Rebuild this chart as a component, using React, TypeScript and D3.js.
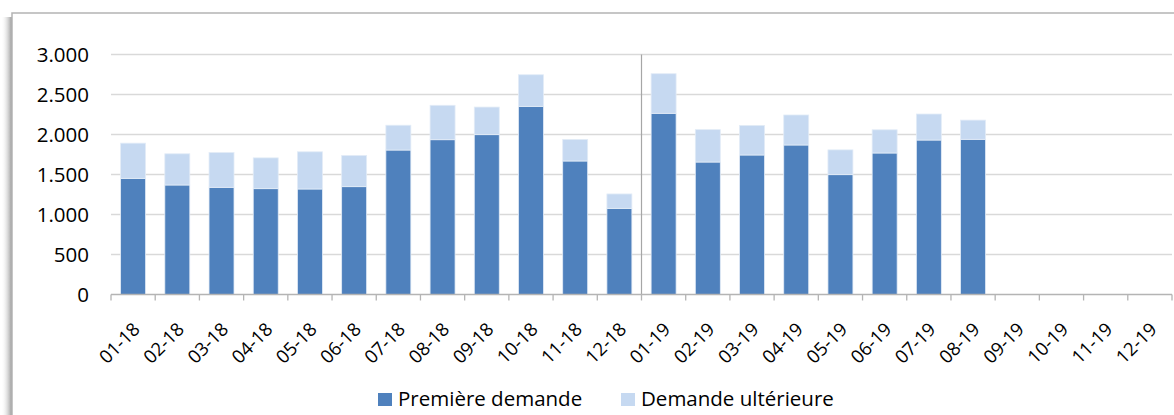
import * as d3 from 'd3';

// Mois (MM-AA)
const months = [
  '01-18', '02-18', '03-18', '04-18', '05-18', '06-18', '07-18', '08-18', '09-18', '10-18', '11-18', '12-18',
  '01-19', '02-19', '03-19', '04-19', '05-19', '06-19', '07-19', '08-19', '09-19', '10-19', '11-19', '12-19',
];

// Valeurs (null = pas encore de donnée)
const premiereDemande = [
  1452, 1369, 1340, 1323, 1319, 1348, 1806, 1935, 1998, 2352, 1669, 1077,
  2265, 1656, 1744, 1869, 1498, 1769, 1931, 1940, null, null, null, null,
];
const demandeUlterieure = [
  440, 390, 435, 385, 465, 390, 310, 430, 345, 395, 270, 180,
  495, 405, 370, 375, 310, 290, 325, 240, null, null, null, null,
];

const seriesNames = ['Première demande', 'Demande ultérieure'];
const seriesColors = ['#4f81bd', '#c6d9f1'];
const yTicks = [0, 500, 1000, 1500, 2000, 2500, 3000];
const separatorMonth = '01-19';

const W = 1174;
const H = 415;
const plot = { left: 111, right: 1172, top: 54.5, bottom: 294.5 };
const FONT = '"Open Sans", sans-serif';

const fmt = d3.formatLocale({ decimal: ',', thousands: '.', grouping: [3], currency: ['', ' €'] }).format(',');

export default function App() {
  const x = d3.scaleBand<string>().domain(months).range([plot.left, plot.right]).padding(0);
  const y = d3.scaleLinear().domain([0, 3000]).range([plot.bottom, plot.top]);
  const barW = x.bandwidth() * 0.565;

  const rows = months.map((m, i) => ({ month: m, a: premiereDemande[i], b: demandeUlterieure[i] }));
  const stacked = d3.stack<any>().keys(['a', 'b']).value((d, k) => d[k] ?? 0)(rows);

  return (
    <svg width={W} height={H} style={{ position: 'absolute', left: 0, top: 0, background: '#fff' }}>
      <defs>
        <linearGradient id="shadow" x1="0" x2="1" y1="0" y2="0">
          <stop offset="0%" stopColor="#ffffff" stopOpacity={0} />
          <stop offset="100%" stopColor="#8c8c8c" stopOpacity={0.9} />
        </linearGradient>
      </defs>

      {/* cadre + ombre */}
      <rect x={1} y={17} width={11} height={H} fill="url(#shadow)" />
      <rect x={12} y={13} width={W + 20} height={H + 20} fill="#fff" stroke="#b4b4b4" strokeWidth={1.5} />

      {/* grille */}
      {yTicks.filter((t) => t > 0).map((t) => (
        <line key={t} x1={plot.left} x2={plot.right} y1={y(t)} y2={y(t)} stroke="#d9d9d9" strokeWidth={1.3} />
      ))}

      {/* étiquettes Y */}
      {yTicks.map((t) => (
        <text key={t} x={89} y={y(t)} dy="0.36em" textAnchor="end" fontFamily={FONT} fontSize={20.5} fill="#000">
          {fmt(t)}
        </text>
      ))}

      {/* barres empilées */}
      {stacked.map((s, si) =>
        s.map((d, i) => {
          const v = si === 0 ? premiereDemande[i] : demandeUlterieure[i];
          if (v == null) return null;
          const cx = (x(months[i]) as number) + x.bandwidth() / 2;
          return (
            <rect
              key={`${si}-${i}`}
              x={cx - barW / 2}
              y={y(d[1])}
              width={barW}
              height={y(d[0]) - y(d[1])}
              fill={seriesColors[si]}
              stroke="#e3ecf7"
              strokeWidth={0.8}
            />
          );
        })
      )}

      {/* séparateur 2018 / 2019 */}
      <line
        x1={x(separatorMonth) as number}
        x2={x(separatorMonth) as number}
        y1={y(3000)}
        y2={y(0)}
        stroke="#a6a6a6"
        strokeWidth={1.2}
      />

      {/* axe X */}
      <line x1={plot.left} x2={plot.right} y1={y(0)} y2={y(0)} stroke="#b4b4b4" strokeWidth={1.3} />
      {[...months.map((m) => x(m) as number), plot.right].map((tx, i) => (
        <line key={i} x1={tx} x2={tx} y1={y(0)} y2={y(0) + 6} stroke="#b4b4b4" strokeWidth={1.3} />
      ))}
      {months.map((m) => {
        const cx = (x(m) as number) + x.bandwidth() / 2;
        const ax = cx + 8;
        const ay = y(0) + 36;
        return (
          <text
            key={m}
            x={ax}
            y={ay}
            textAnchor="end"
            transform={`rotate(-45 ${ax} ${ay})`}
            fontFamily={FONT}
            fontSize={18.5}
            fill="#000"
          >
            {m}
          </text>
        );
      })}

      {/* légende */}
      {seriesNames.map((n, i) => {
        const lx = i === 0 ? 378 : 621;
        return (
          <g key={n}>
            <rect x={lx} y={393} width={14} height={13} fill={seriesColors[i]} />
            <text x={lx + 20} y={406} fontFamily={FONT} fontSize={20.5} fill="#000">
              {n}
            </text>
          </g>
        );
      })}
    </svg>
  );
}
